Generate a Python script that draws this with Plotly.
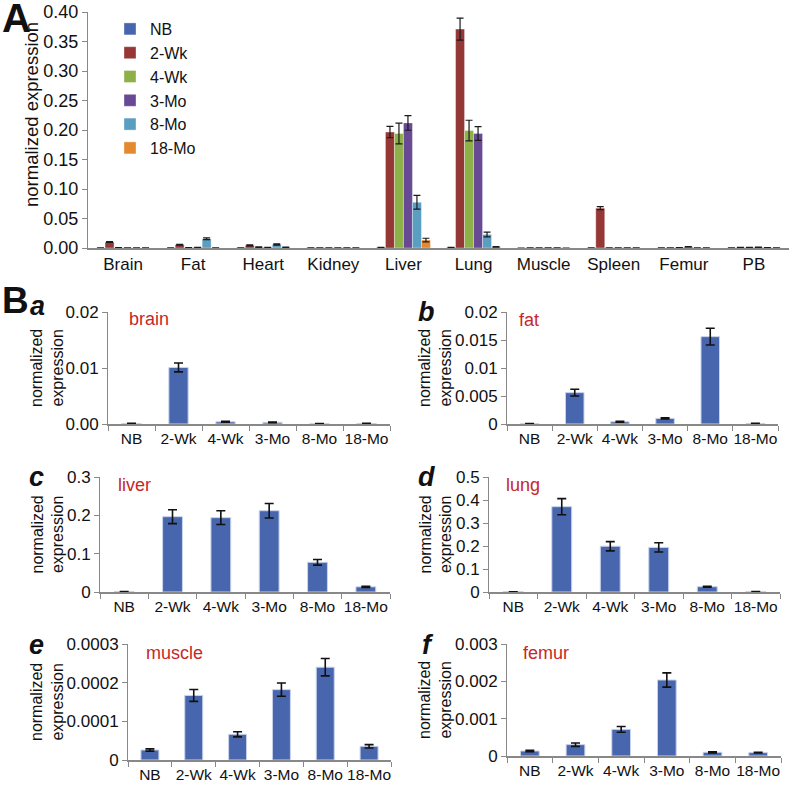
import plotly.graph_objects as go

W, H = 790, 785

ages = ["NB", "2-Wk", "4-Wk", "3-Mo", "8-Mo", "18-Mo"]
tissues = ["Brain", "Fat", "Heart", "Kidney", "Liver", "Lung", "Muscle", "Spleen", "Femur", "PB"]
age_colors = ["#4766AE", "#953735", "#8EB048", "#674A93", "#5A9EC2", "#E3892F"]

# mean normalized expression per tissue, in age order NB..18-Mo
brain = [0.0001, 0.0101, 0.0004, 0.0003, 0.00005, 0.0001]
fat = [0.00005, 0.0056, 0.0004, 0.001, 0.0156, 0.0001]
heart = [0.0003, 0.0045, 0.0015, 0.001, 0.006, 0.0012]
kidney = [0.0002, 0.0003, 0.0002, 0.0002, 0.0002, 0.0001]
liver = [0.001, 0.1965, 0.194, 0.212, 0.0775, 0.0135]
lung = [0.001, 0.371, 0.199, 0.194, 0.023, 0.002]
muscle = [0.0000259, 0.000167, 0.0000664, 0.000182, 0.00024, 0.0000354]
spleen = [0.0002, 0.0675, 0.0003, 0.0002, 0.0002, 0.0001]
femur = [0.000134, 0.000304, 0.000714, 0.002036, 0.0001, 0.00009]
pb = [0.0003, 0.0008, 0.001, 0.0012, 0.0005, 0.0003]

# error bars (panel B)
brain_err = [0.00003, 0.0008, 0.0001, 0.00005, 0.00002, 0.00002]
fat_err = [0.00002, 0.0006, 0.0001, 0.0001, 0.0015, 0.00002]
heart_err = [0.0001, 0.0008, 0.0003, 0.0002, 0.001, 0.0003]
kidney_err = [0.00005, 0.00005, 0.00005, 0.00005, 0.00005, 0.00005]
liver_err = [0.0003, 0.018, 0.018, 0.019, 0.0074, 0.0015]
lung_err = [0.0003, 0.035, 0.02, 0.02, 0.002, 0.0004]
muscle_err = [0.000003, 0.0000155, 0.0000065, 0.0000172, 0.0000224, 0.0000043]
spleen_err = [0.00005, 0.0025, 0.00005, 0.00005, 0.00005, 0.00005]
femur_err = [0.00002, 0.000045, 0.000076, 0.00019, 0.000015, 0.00001]
pb_err = [0.0001, 0.0002, 0.0002, 0.0002, 0.0001, 0.0001]

# error bars as drawn in panel A for liver and lung
liver_err_A = [0.0003, 0.0096, 0.0175, 0.0124, 0.0116, 0.003]
lung_err_A = [0.0003, 0.0187, 0.0175, 0.0116, 0.004, 0.0005]

a_means = [brain, fat, heart, kidney, liver, lung, muscle, spleen, femur, pb]
a_errs = [brain_err, fat_err, heart_err, kidney_err, liver_err_A, lung_err_A,
          muscle_err, spleen_err, femur_err, pb_err]

# y tick values/labels
a_ticks = [0, 0.05, 0.10, 0.15, 0.20, 0.25, 0.30, 0.35, 0.40]
a_ticktext = ["0.00", "0.05", "0.10", "0.15", "0.20", "0.25", "0.30", "0.35", "0.40"]
panels = [
    # letter, tissue label, means, errs, ymax, tickvals, ticktext
    ("a", "brain", brain, brain_err, 0.02, [0, 0.01, 0.02], ["0.00", "0.01", "0.02"]),
    ("b", "fat", fat, fat_err, 0.02, [0, 0.005, 0.01, 0.015, 0.02], ["0", "0.005", "0.01", "0.015", "0.02"]),
    ("c", "liver", liver, liver_err, 0.3, [0, 0.1, 0.2, 0.3], ["0", "0.1", "0.2", "0.3"]),
    ("d", "lung", lung, lung_err, 0.5, [0, 0.1, 0.2, 0.3, 0.4, 0.5], ["0", "0.1", "0.2", "0.3", "0.4", "0.5"]),
    ("e", "muscle", muscle, muscle_err, 0.0003, [0, 0.0001, 0.0002, 0.0003], ["0", "0.0001", "0.0002", "0.0003"]),
    ("f", "femur", femur, femur_err, 0.003, [0, 0.001, 0.002, 0.003], ["0", "0.001", "0.002", "0.003"]),
]

# layout geometry in pixels: (left, right, top, bottom)
A_box = (88, 789, 12, 248)
B_boxes = [
    (108, 390, 312, 424),
    (507, 778, 312, 424),
    (100, 390, 477, 592),
    (489, 780, 477, 592),
    (128, 391, 644, 760),
    (507, 781, 644, 756),
]
title_x = [47, 435, 47, 435, 47, 435]
letter_pos = [(37, 306), (426, 312), (36, 477), (426, 477), (36, 645), (428, 645)]
tissue_pos = [(127, 319), (517, 320), (116, 485), (504, 485), (144, 653), (521, 653)]

FONT = "Liberation Sans, Arial, sans-serif"
AXC = "#888888"
RED = "#C62828"


def fx(p):
    return p / W


def fy(p):
    return 1 - p / H


fig = go.Figure()

for i, age in enumerate(ages):
    fig.add_trace(go.Bar(
        x=tissues, y=[m[i] for m in a_means], name=age,
        marker=dict(color=age_colors[i], line=dict(color="rgba(255,255,255,0.6)", width=0.6)),
        error_y=dict(type="data", array=[e[i] for e in a_errs], color="#1a1a1a",
                     thickness=1.2, width=3.5),
        xaxis="x", yaxis="y",
    ))

for k, (letter, tname, means, errs, ymax, tv, tt) in enumerate(panels):
    n = k + 2
    fig.add_trace(go.Bar(
        x=ages, y=means, width=0.41, showlegend=False,
        marker=dict(color=age_colors[0], line=dict(color="#C9D3EA", width=1)),
        error_y=dict(type="data", array=errs, color="#111111", thickness=1.6, width=4.5),
        xaxis=f"x{n}", yaxis=f"y{n}",
    ))

layout = dict(
    template="none",
    width=W, height=H, margin=dict(l=0, r=0, t=0, b=0, pad=0, autoexpand=False),
    paper_bgcolor="white", plot_bgcolor="white",
    font=dict(family=FONT, color="#111111"),
    barmode="group", bargap=0.23, bargroupgap=0,
    showlegend=True,
    legend=dict(x=fx(110), y=fy(12), xanchor="left", yanchor="top",
                bgcolor="rgba(0,0,0,0)", borderwidth=0, font=dict(size=16, family=FONT),
                itemwidth=30, tracegroupgap=0),
)

l, r, t, b = A_box
layout["xaxis"] = dict(domain=[fx(l), fx(r)], anchor="y", type="category", automargin=False,
                       range=[-0.5, 9.5], showline=True, linecolor=AXC, linewidth=1.8,
                       ticks="", tickfont=dict(size=17), showgrid=False, zeroline=False,
                       tickangle=0)
layout["yaxis"] = dict(domain=[fy(b), fy(t)], anchor="x", range=[0, 0.4], automargin=False,
                       tickvals=a_ticks, ticktext=a_ticktext, showline=True, linecolor=AXC,
                       linewidth=1, ticks="outside", ticklen=5, tickcolor=AXC,
                       tickfont=dict(size=18), showgrid=False, zeroline=False)

annotations = [
    dict(text="<b>A</b>", x=fx(0), y=fy(18), xref="paper", yref="paper",
         xanchor="left", yanchor="middle", showarrow=False, font=dict(size=40, family=FONT, color="#111")),
    dict(text="<b>B</b>", x=fx(0), y=fy(300), xref="paper", yref="paper",
         xanchor="left", yanchor="middle", showarrow=False, font=dict(size=37, family=FONT, color="#111")),
    dict(text="normalized expression", x=fx(32), y=fy(115), xref="paper", yref="paper",
         xanchor="center", yanchor="middle", textangle=-90, showarrow=False,
         font=dict(size=18.5, family=FONT, color="#111")),
]

for k, (letter, tname, means, errs, ymax, tv, tt) in enumerate(panels):
    n = k + 2
    l, r, t, b = B_boxes[k]
    layout[f"xaxis{n}"] = dict(domain=[fx(l), fx(r)], anchor=f"y{n}", type="category",
                               automargin=False, tickangle=0,
                               range=[-0.5, 5.5], showline=True, linecolor=AXC, linewidth=1.5,
                               ticks="outside", tickson="boundaries", ticklen=5, tickcolor=AXC,
                               tickfont=dict(size=15.5), showgrid=False, zeroline=False)
    layout[f"yaxis{n}"] = dict(domain=[fy(b), fy(t)], anchor=f"x{n}", range=[0, ymax],
                               automargin=False,
                               tickvals=tv, ticktext=tt, showline=True, linecolor=AXC, linewidth=1,
                               ticks="outside", ticklen=5, tickcolor=AXC,
                               tickfont=dict(size=17), showgrid=False, zeroline=False)
    annotations.append(dict(text="normalized<br>expression", x=fx(title_x[k]), y=fy((t + b) / 2),
                            xref="paper", yref="paper", xanchor="center", yanchor="middle",
                            textangle=-90, showarrow=False,
                            font=dict(size=16, family=FONT, color="#111")))
    lx, ly = letter_pos[k]
    annotations.append(dict(text=f"<b><i>{letter}</i></b>", x=fx(lx), y=fy(ly), xref="paper",
                            yref="paper", xanchor="center", yanchor="middle", showarrow=False,
                            font=dict(size=27, family=FONT, color="#111")))
    tx, ty = tissue_pos[k]
    annotations.append(dict(text=tname, x=fx(tx), y=fy(ty), xref="paper", yref="paper",
                            xanchor="left", yanchor="middle", showarrow=False,
                            font=dict(size=18, family=FONT, color=RED)))

layout["annotations"] = annotations
fig.update_layout(**layout)
fig.write_html("out.html", config={"displayModeBar": False, "staticPlot": True},
               post_script="document.body.style.margin='0px';document.body.style.overflow='hidden';")
